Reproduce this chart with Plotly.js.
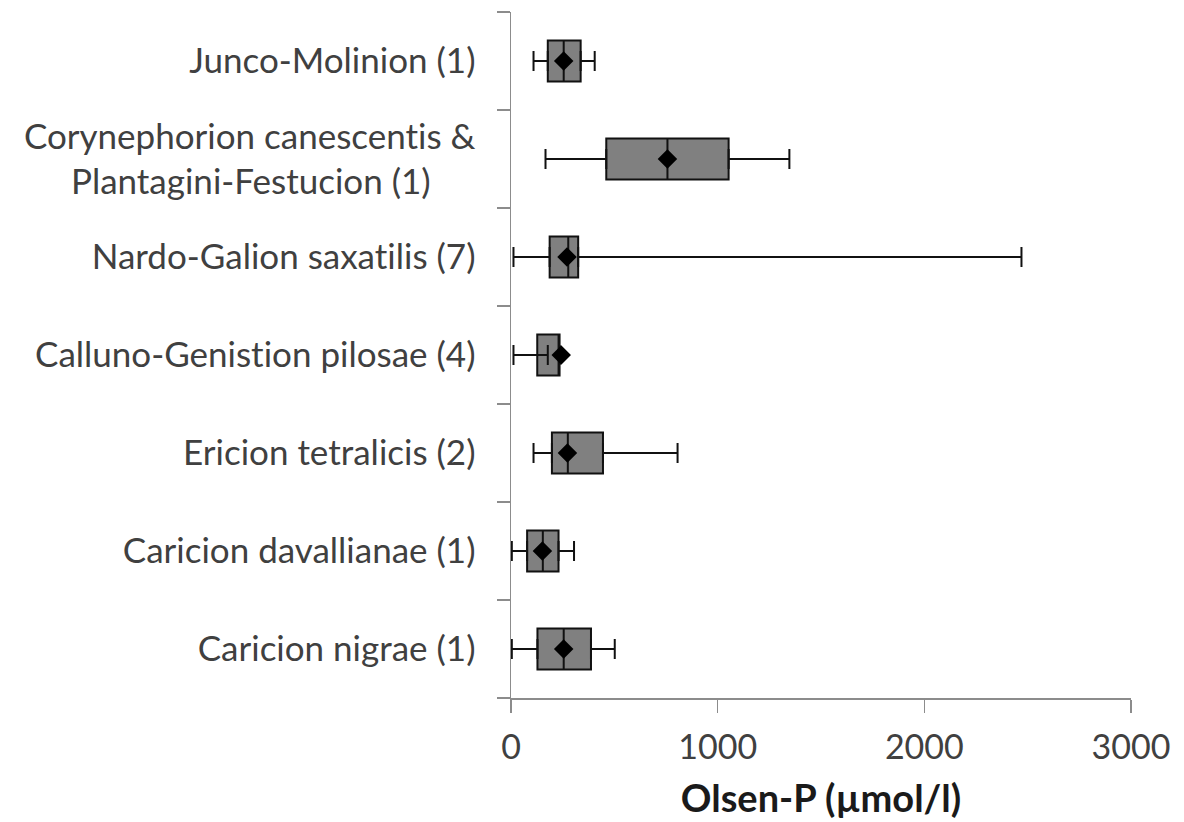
<!DOCTYPE html>
<html>
<head>
<meta charset="utf-8">
<script src="https://cdn.plot.ly/plotly-3.0.1.min.js"></script>
<style>
html,body{margin:0;padding:0;background:#fff;}
#chart{width:1184px;height:822px;}
svg text{font-variant-ligatures:none;font-feature-settings:"liga" 0,"clig" 0;}
</style>
</head>
<body>
<div id="chart"></div>
<script>
// Categories, top to bottom
const categories = [
  "Junco-Molinion (1)",
  "Corynephorion canescentis & Plantagini-Festucion (1)",
  "Nardo-Galion saxatilis (7)",
  "Calluno-Genistion pilosae (4)",
  "Ericion tetralicis (2)",
  "Caricion davallianae (1)",
  "Caricion nigrae (1)"
];
const tickLabels = [
  "Junco-Molinion (1)",
  "Corynephorion canescentis &<br>Plantagini-Festucion (1)\u00a0\u00a0\u00a0\u00a0\u00a0",
  "Nardo-Galion saxatilis (7)",
  "Calluno-Genistion pilosae (4)",
  "Ericion tetralicis (2)",
  "Caricion davallianae (1)",
  "Caricion nigrae (1)"
];
// Olsen-P (µmol/l) statistics
const minVals    = [109, 167,   12,  12, 109,   4,    4];
const q1Vals     = [178, 461,  187, 127, 198,  78,  128];
const medianVals = [255, 757,  277, 235, 275, 154,  255];
const q3Vals     = [337, 1053, 325, 235, 445, 230,  387];
const maxVals    = [405, 1347, 2470, 235, 806, 305, 502];
const meanVals   = [255, 757,  271, 243, 273, 152,  255];
// point from which the lower whisker is drawn (box edge, except where it runs into the box)
const lowAnchor  = [178, 461,  187, 178, 198,  78,  128];

const axisGrey = "#8c8c8c";
const textCol = "#404040";
const fontFam = "Lato, 'Open Sans', sans-serif";

const boxTrace = {
  type: "box",
  orientation: "h",
  y: categories,
  q1: q1Vals,
  median: medianVals,
  q3: q3Vals,
  lowerfence: q1Vals,
  upperfence: q3Vals,
  width: 0.42,
  whiskerwidth: 0,
  fillcolor: "#808080",
  line: {color: "#111111", width: 2},
  boxpoints: false,
  hoverinfo: "skip",
  showlegend: false
};

const lowerWhisker = {
  type: "scatter",
  mode: "markers",
  y: categories,
  x: lowAnchor,
  marker: {size: 1, color: "rgba(0,0,0,0)"},
  error_x: {
    type: "data", symmetric: false,
    array: lowAnchor.map(() => 0),
    arrayminus: lowAnchor.map((a, i) => a - minVals[i]),
    color: "#111111", thickness: 2, width: 10
  },
  hoverinfo: "skip",
  showlegend: false
};

const upperWhisker = {
  type: "scatter",
  mode: "markers",
  y: categories,
  x: q3Vals,
  marker: {size: 1, color: "rgba(0,0,0,0)"},
  error_x: {
    type: "data", symmetric: false,
    array: q3Vals.map((q, i) => maxVals[i] - q),
    arrayminus: q3Vals.map(() => 0),
    color: "#111111", thickness: 2, width: 10
  },
  hoverinfo: "skip",
  showlegend: false
};

const meanTrace = {
  type: "scatter",
  mode: "markers",
  y: categories,
  x: meanVals,
  marker: {symbol: "diamond", size: 15, color: "#000000"},
  hoverinfo: "skip",
  showlegend: false
};

const layout = {
  width: 1184,
  height: 822,
  margin: {l: 511, r: 53, t: 12, b: 124},
  paper_bgcolor: "#ffffff",
  plot_bgcolor: "#ffffff",
  font: {family: fontFam, color: textCol},
  showlegend: false,
  xaxis: {
    range: [0, 3000],
    tickmode: "linear",
    tick0: 0,
    dtick: 1000,
    ticks: "outside",
    ticklen: 13,
    tickwidth: 1.5,
    tickcolor: axisGrey,
    showline: true,
    linecolor: axisGrey,
    linewidth: 1.5,
    showgrid: false,
    zeroline: false,
    tickfont: {size: 34, color: textCol},
    ticklabelstandoff: 6,
    title: {text: "Olsen-P (µmol/l)", font: {size: 38, color: "#1a1a1a", family: fontFam, weight: "bold"}, standoff: 20}
  },
  yaxis: {
    type: "category",
    categoryorder: "array",
    categoryarray: categories,
    range: [6.5, -0.5],
    tickmode: "array",
    tickvals: categories,
    ticktext: tickLabels,
    tickson: "boundaries",
    ticks: "outside",
    ticklen: 13,
    tickwidth: 1.5,
    tickcolor: axisGrey,
    showline: true,
    linecolor: axisGrey,
    linewidth: 1.5,
    showgrid: false,
    zeroline: false,
    tickfont: {size: 35, color: textCol},
    ticklabelstandoff: 27
  }
};

Plotly.newPlot("chart", [boxTrace, lowerWhisker, upperWhisker, meanTrace], layout, {staticPlot: true, displayModeBar: false});
</script>
</body>
</html>
